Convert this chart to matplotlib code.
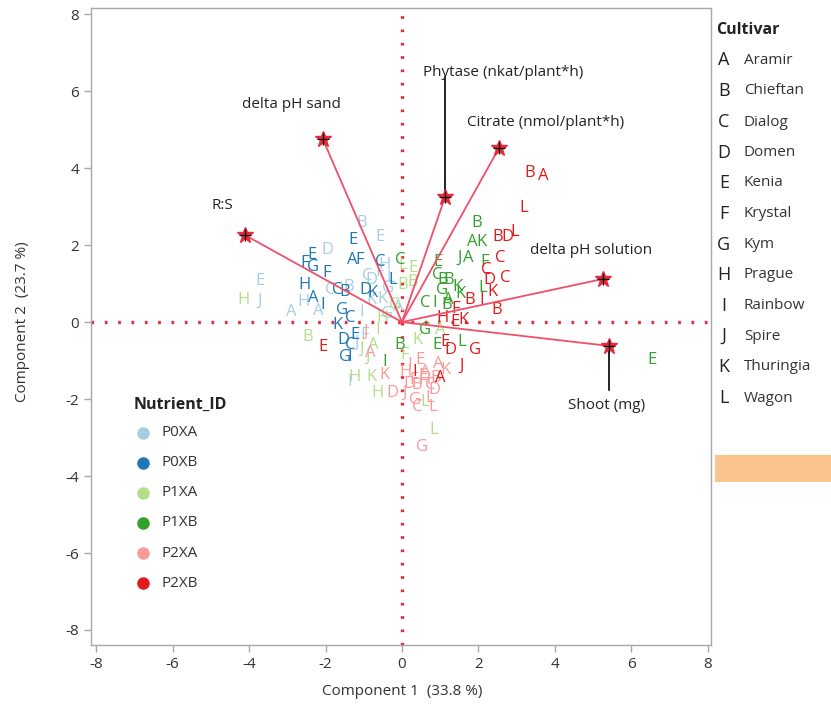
import matplotlib
matplotlib.use("Agg")
import matplotlib.pyplot as plt
from matplotlib.patches import Rectangle

# ---- PCA scores, one set of arrays per nutrient treatment ----
p0xa_pc1 = [-1.05, -0.58, -1.94, -3.72, -3.72, -2.91, -2.59, -2.20, -0.58, -0.79, -0.37, -0.79, -1.36, -0.97, -1.18, -1.88, -0.45, -1.05, -0.10, -0.30, -0.50, -0.90, -1.40, -0.40]
p0xa_pc2 = [2.57, 2.21, 1.87, 1.06, 0.55, 0.26, 0.52, 0.29, 1.30, 1.09, 0.88, 0.57, -1.56, -0.34, -0.55, 0.83, 1.48, 0.26, 0.40, 1.15, 0.60, 1.20, 0.90, 0.20]
p0xa_lab = ["B", "E", "D", "E", "J", "A", "H", "A", "F", "D", "G", "K", "I", "F", "J", "C", "H", "I", "A", "L", "K", "C", "B", "G"]

p0xb_pc1 = [-1.28, -2.36, -1.31, -1.10, -0.58, -2.54, -2.33, -1.96, -2.54, -2.33, -0.24, -2.07, -1.70, -1.49, -0.97, -0.76, -1.57, -1.68, -1.54, -1.36, -1.49, -1.36, -1.23, -1.36]
p0xb_pc2 = [2.13, 1.74, 1.61, 1.61, 1.56, 1.53, 1.43, 1.27, 0.96, 0.62, 1.09, 0.44, 0.83, 0.78, 0.83, 0.75, 0.31, -0.08, -0.47, -0.60, -0.91, -0.91, -0.34, 0.10]
p0xb_lab = ["E", "E", "A", "F", "C", "F", "G", "F", "H", "A", "L", "I", "C", "B", "D", "K", "G", "K", "D", "C", "G", "I", "E", "C"]

p1xa_pc1 = [-4.16, -2.46, 0.03, 0.29, 0.29, -1.23, -0.79, -0.63, 0.84, 0.60, -0.76, -0.63, -0.89, -0.18, 0.03, -0.50, 0.99, 0.08, 0.42, -1.05]
p1xa_pc2 = [0.57, -0.39, 0.96, 1.04, 1.40, -1.43, -1.43, -1.84, -2.81, -2.08, -0.60, -0.21, -0.91, 0.44, 1.48, 0.10, -0.21, -0.86, -0.47, -0.70]
p1xa_lab = ["H", "B", "B", "B", "E", "H", "K", "H", "L", "L", "A", "I", "J", "G", "L", "H", "A", "F", "K", "J"]

p1xb_pc1 = [1.96, 1.83, 2.09, 1.52, 1.73, 2.17, 0.94, 0.92, 1.07, 1.23, 1.05, 2.12, 1.52, 1.20, 0.60, 0.86, 1.18, -0.05, 6.54, 1.57, -0.05, -0.45, 0.60, 0.92, 1.45]
p1xb_pc2 = [2.57, 2.08, 2.08, 1.66, 1.66, 1.56, 1.56, 1.22, 1.09, 1.09, 0.83, 0.88, 0.73, 0.57, 0.49, 0.49, 0.44, 1.61, -0.99, -0.52, -0.60, -1.04, -0.21, -0.60, 0.90]
p1xb_lab = ["B", "A", "K", "J", "A", "F", "E", "C", "B", "B", "G", "L", "K", "A", "C", "I", "B", "C", "E", "L", "B", "I", "G", "E", "K"]

p2xa_pc1 = [0.52, -0.24, 0.89, -0.84, -0.45, 0.08, 0.39, 0.60, 0.73, 0.21, 0.47, 0.73, 0.34, 0.08, 0.86, 1.13, -0.95, 0.30, 0.55, 0.95, 0.60, 0.40, 0.80, 0.20]
p2xa_pc2 = [-3.25, -1.84, -1.45, -0.81, -1.38, -1.84, -1.64, -1.30, -1.64, -1.12, -0.99, -1.97, -2.03, -1.30, -1.77, -1.25, -0.25, -1.50, -1.40, -1.10, -1.50, -2.20, -2.20, -1.60]
p2xa_lab = ["G", "D", "B", "A", "K", "J", "B", "A", "C", "I", "E", "L", "G", "H", "D", "K", "J", "F", "E", "A", "H", "C", "L", "D"]

p2xb_pc1 = [3.35, 3.69, 3.19, 2.51, 2.75, 2.96, 2.57, 2.20, 2.30, 2.70, 2.49, 1.78, 2.09, 2.36, -2.07, 1.91, 1.57, 0.99, 1.39, 1.13, 1.26, 0.34, 1.60, 1.40, 1.05]
p2xb_pc2 = [3.87, 3.79, 2.96, 2.21, 2.21, 2.34, 1.66, 1.35, 1.09, 1.14, 0.31, 0.57, 0.57, 0.78, -0.65, -0.73, -1.14, -1.45, 0.00, -0.52, -0.73, -1.30, 0.05, 0.35, 0.10]
p2xb_lab = ["B", "A", "L", "B", "D", "L", "C", "C", "D", "C", "B", "B", "I", "K", "E", "G", "J", "A", "E", "E", "D", "I", "K", "F", "H"]

nutrient_ids = ["P0XA", "P0XB", "P1XA", "P1XB", "P2XA", "P2XB"]
nutrient_colors = ["#a6cee3", "#1f78b4", "#b2df8a", "#33a02c", "#fb9a99", "#e31a1c"]

# ---- variable loadings (scaled) ----
var_names = ["delta pH sand", "R:S", "Phytase (nkat/plant*h)", "Citrate (nmol/plant*h)",
             "delta pH solution", "Shoot (mg)"]
load_pc1 = [-2.07, -4.11, 1.13, 2.54, 5.26, 5.42]
load_pc2 = [4.75, 2.26, 3.25, 4.52, 1.12, -0.62]

cultivar_codes = ["A", "B", "C", "D", "E", "F", "G", "H", "I", "J", "K", "L"]
cultivar_names = ["Aramir", "Chieftan", "Dialog", "Domen", "Kenia", "Krystal", "Kym",
                  "Prague", "Rainbow", "Spire", "Thuringia", "Wagon"]

FONT = ["Open Sans", "DejaVu Sans"]
plt.rcParams["font.family"] = FONT
TXT = "#333333"

fig = plt.figure(figsize=(8.31, 7.08), dpi=100)
ax = fig.add_axes([0.1095, 0.0890, 0.7461, 0.8997])
ax.set_xlim(-8.14, 8.09)
ax.set_ylim(-8.39, 8.16)

# reference lines through the origin
ax.axvline(0, color="#e8293a", lw=2.4, ls=(0, (0.8, 3.2)), zorder=1)
ax.axhline(0, color="#e8293a", lw=2.4, ls=(0, (0.8, 3.2)), zorder=1)

# score letters
groups = [
    (p0xa_pc1, p0xa_pc2, p0xa_lab),
    (p0xb_pc1, p0xb_pc2, p0xb_lab),
    (p1xa_pc1, p1xa_pc2, p1xa_lab),
    (p1xb_pc1, p1xb_pc2, p1xb_lab),
    (p2xa_pc1, p2xa_pc2, p2xa_lab),
    (p2xb_pc1, p2xb_pc2, p2xb_lab),
]
for (xs, ys, labs), col in zip(groups, nutrient_colors):
    for x, y, t in zip(xs, ys, labs):
        ax.text(x, y, t, color=col, fontsize=12, ha="center", va="center", zorder=3)

# loading rays
for lx, ly in zip(load_pc1, load_pc2):
    ax.plot([0, lx], [0, ly], color="#f0506a", lw=1.3, zorder=4)
    ax.plot(lx, ly, marker="*", color="#e8293a", ms=12, zorder=5)
    ax.plot(lx, ly, marker="+", color="black", ms=9, mew=0.9, zorder=6)

# leader lines for two of the labels
ax.plot([load_pc1[2], load_pc1[2]], [6.36, load_pc2[2]], color="black", lw=1.2, zorder=4)
ax.plot([load_pc1[5], load_pc1[5]], [load_pc2[5], -1.77], color="black", lw=1.2, zorder=4)

label_pos = [(-2.88, 5.64, "center"), (-4.71, 3.04, "center"), (0.55, 6.49, "left"),
             (1.70, 5.19, "left"), (3.35, 1.87, "left"), (4.35, -2.16, "left")]
for name, (tx, ty, ha) in zip(var_names, label_pos):
    ax.text(tx, ty, name, fontsize=11, color="#222222", ha=ha, va="center", zorder=7)

# axes styling
ticks = list(range(-8, 9, 2))
ax.set_xticks(ticks)
ax.set_yticks(ticks)
ax.set_xticklabels([str(t) for t in ticks])
ax.set_yticklabels([str(t) for t in ticks])
for s in ax.spines.values():
    s.set_color("#a8a8a8")
    s.set_linewidth(1.0)
ax.tick_params(colors="#a8a8a8", labelcolor=TXT, labelsize=11, length=5, width=1)
fig.text(0.4838, 0.0226, "Component 1  (33.8 %)", ha="center", va="center", fontsize=11, color=TXT)
fig.text(0.0265, 0.545, "Component 2  (23.7 %)", ha="center", va="center", fontsize=11,
         color=TXT, rotation=90)

# nutrient legend inside the plot
ax.text(0.0694, 0.377, "Nutrient_ID", transform=ax.transAxes, fontsize=11.5,
        fontweight="bold", color="#222222", ha="left", va="center")
leg_y = [0.333, 0.286, 0.239, 0.192, 0.144, 0.097]
for nid, col, fy in zip(nutrient_ids, nutrient_colors, leg_y):
    ax.plot(0.0839, fy, "o", color=col, ms=8, transform=ax.transAxes, clip_on=False)
    ax.text(0.1145, fy, nid, transform=ax.transAxes, fontsize=11, color=TXT,
            ha="left", va="center")

# cultivar legend on the right
fig.text(0.8616, 0.9576, "Cultivar", fontsize=11.5, fontweight="bold", color="#222222",
         ha="left", va="center")
row_px = [60, 91, 122, 153, 183, 214, 245, 275, 306, 336, 367, 398]
for code, name, py in zip(cultivar_codes, cultivar_names, row_px):
    fy = 1 - py / 708
    fig.text(0.871, fy, code, fontsize=13, color="#222222", ha="center", va="center")
    fig.text(0.8953, fy, name, fontsize=11, color=TXT, ha="left", va="center")

fig.patches.append(Rectangle((0.860, 0.3192), 0.140, 0.0381, transform=fig.transFigure,
                             facecolor="#fbc48e", edgecolor="none"))

fig.savefig("out.png", dpi=100, facecolor="white")
